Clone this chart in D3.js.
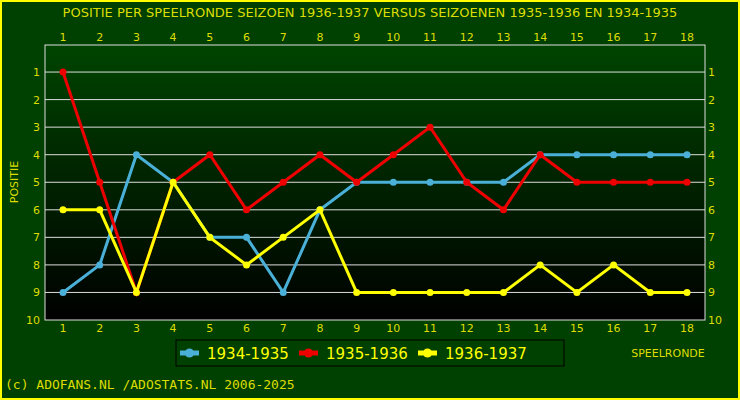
<!DOCTYPE html>
<html><head><meta charset="utf-8">
<script src="https://cdn.jsdelivr.net/npm/d3@7"></script>
<style>body{margin:0;background:#004000}</style>
</head><body><svg id="chart" width="740" height="400"></svg>
<script>
const rounds = d3.range(1, 19);
const positions = d3.range(1, 11);
const s1934 = [9,8,4,5,7,7,9,6,5,5,5,5,5,4,4,4,4,4];
const s1935 = [1,5,9,5,4,6,5,4,5,4,3,5,6,4,5,5,5,5];
const s1936 = [6,6,9,5,7,8,7,6,9,9,9,9,9,8,9,8,9,9];
const series = [
  {name: "1934-1935", values: s1934, color: "#4ab0d8"},
  {name: "1935-1936", values: s1935, color: "#ee0000"},
  {name: "1936-1937", values: s1936, color: "#ffff00"}
];

const svg = d3.select("#chart");
const L = 45, R = 705, T = 45, B = 320;
svg.append("rect").attr("x", 1).attr("y", 1).attr("width", 738).attr("height", 398)
  .attr("fill", "#004000").attr("stroke", "#ffff00").attr("stroke-width", 2);

const grad = svg.append("defs").append("linearGradient").attr("id", "bg")
  .attr("x1", 0).attr("y1", 0).attr("x2", 0).attr("y2", 1);
grad.append("stop").attr("offset", 0).attr("stop-color", "#004400");
grad.append("stop").attr("offset", 1).attr("stop-color", "#000000");
svg.append("rect").attr("x", L).attr("y", T).attr("width", R - L).attr("height", B - T)
  .attr("fill", "url(#bg)").attr("stroke", "#dddddd");

const x = d3.scalePoint().domain(rounds).range([63, 687]);
const y = d3.scaleLinear().domain([0, 10]).range([44.5, 320]);

svg.append("g").selectAll("line").data(positions.slice(0, 9)).join("line")
  .attr("x1", L).attr("x2", R).attr("y1", d => y(d)).attr("y2", d => y(d))
  .attr("stroke", "#dddddd").attr("stroke-width", 1);

const font = "DejaVu Sans, sans-serif";
const txt = (x0, y0, t, size, anchor) => svg.append("text").attr("x", x0).attr("y", y0)
  .attr("fill", "#dddd00").attr("font-family", font).attr("font-size", size)
  .attr("text-anchor", anchor || "middle").text(t);

txt(370, 17, "POSITIE PER SPEELRONDE SEIZOEN 1936-1937 VERSUS SEIZOENEN 1935-1936 EN 1934-1935", 13);
rounds.forEach(r => { txt(x(r), 41, r, 11); txt(x(r), 332, r, 11); });
positions.forEach(p => { txt(40, y(p) + 4, p, 11, "end"); txt(708, y(p) + 4, p, 11, "start"); });
txt(18, 182, "POSITIE", 11).attr("transform", "rotate(-90,18,182)");
txt(668, 357, "SPEELRONDE", 11);
txt(5, 389, "(c) ADOFANS.NL /ADOSTATS.NL 2006-2025", 13, "start").attr("font-family", "DejaVu Sans Mono, monospace");

const line = d3.line().x((d, i) => x(rounds[i])).y(d => y(d));
series.forEach(s => {
  svg.append("path").datum(s.values).attr("d", line).attr("fill", "none")
    .attr("stroke", s.color).attr("stroke-width", 3);
  svg.append("g").selectAll("circle").data(s.values).join("circle")
    .attr("cx", (d, i) => x(rounds[i])).attr("cy", d => y(d)).attr("r", 3.5).attr("fill", s.color);
});

// legend
svg.append("rect").attr("x", 176).attr("y", 340).attr("width", 388).attr("height", 26)
  .attr("fill", "none").attr("stroke", "#000");
series.forEach((s, i) => {
  const lx = 180 + i * 119;
  svg.append("line").attr("x1", lx).attr("x2", lx + 19).attr("y1", 353).attr("y2", 353)
    .attr("stroke", s.color).attr("stroke-width", 5);
  svg.append("circle").attr("cx", lx + 9.5).attr("cy", 353).attr("r", 4.5).attr("fill", s.color);
  svg.append("text").attr("x", lx + 27).attr("y", 359).attr("fill", "#ffff00")
    .attr("font-family", font).attr("font-size", 15).text(s.name);
});
</script></body></html>
